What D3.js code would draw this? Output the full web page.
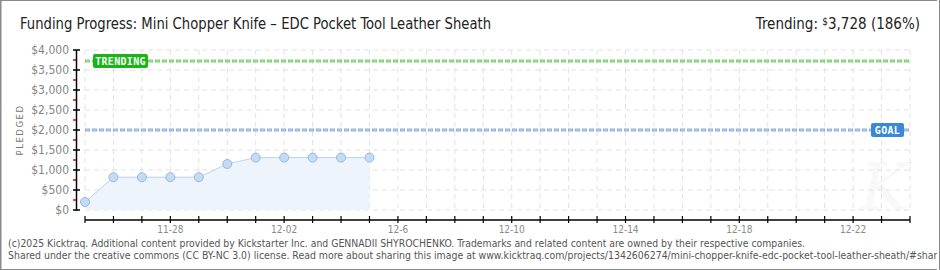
<!DOCTYPE html>
<html><head><meta charset="utf-8">
<script src="https://cdn.jsdelivr.net/npm/d3@7"></script>
<style>html,body{margin:0;padding:0;background:#fff;}svg{display:block;}</style>
</head><body>
<svg id="c" width="940" height="270"></svg>
<script>
const title = "Funding Progress: Mini Chopper Knife \u2013 EDC Pocket Tool Leather Sheath";
const startDate = "2025-11-25";
const endDate = "2025-12-24";
const pledgedDates = ["2025-11-25","2025-11-26","2025-11-27","2025-11-28","2025-11-29","2025-11-30","2025-12-01","2025-12-02","2025-12-03","2025-12-04","2025-12-05"];
const pledgedValues = [200, 820, 820, 820, 820, 1150, 1310, 1310, 1310, 1310, 1310];
const goalValue = 2000;
const trendingValue = 3728;
const trendingPct = 186;
const yTicks = [0, 500, 1000, 1500, 2000, 2500, 3000, 3500, 4000];
const xLabelDates = ["2025-11-28","2025-12-02","2025-12-06","2025-12-10","2025-12-14","2025-12-18","2025-12-22"];
const xLabelTexts = ["11-28","12-02","12-6","12-10","12-14","12-18","12-22"];
const footer1 = "(c)2025 Kicktraq. Additional content provided by Kickstarter Inc. and GENNADII SHYROCHENKO. Trademarks and related content are owned by their respective companies.";
const footer2 = "Shared under the creative commons (CC BY-NC 3.0) license. Read more about sharing this image at www.kicktraq.com/projects/1342606274/mini-chopper-knife-edc-pocket-tool-leather-sheath/#share";

const svg = d3.select("#c");
const P = d3.utcParse("%Y-%m-%d");
const x = d3.scaleUtc().domain([P(startDate), P(endDate)]).range([85, 910]);
const y = d3.scaleLinear().domain([0, 4000]).range([210, 50]);
const days = d3.utcDay.range(P(startDate), d3.utcDay.offset(P(endDate), 1));
const FONT = "'DejaVu Sans Condensed','DejaVu Sans',sans-serif";

// border
svg.append("rect").attr("x",0.5).attr("y",0.5).attr("width",939).attr("height",269)
  .attr("fill","#fff").attr("stroke","#8a8a8a").attr("stroke-width",1);
svg.append("line").attr("x1",1).attr("x2",1).attr("y1",0).attr("y2",270).attr("stroke","#8a8a8a").attr("stroke-width",1);

// watermark K
svg.append("text").attr("x",860).attr("y",210).attr("font-family","'DejaVu Serif',serif")
  .attr("font-style","italic").attr("font-size",66).attr("fill","#f8f8f8").text("K");

// grid
const g = svg.append("g");
g.selectAll("line.v").data(days).join("line")
  .attr("x1",d=>x(d)).attr("x2",d=>x(d)).attr("y1",y(4000)).attr("y2",y(0))
  .attr("stroke","#e2e2e2").attr("stroke-dasharray","5,4");
g.selectAll("line.h").data(yTicks).join("line")
  .attr("x1",x(P(startDate))).attr("x2",910).attr("y1",d=>y(d)).attr("y2",d=>y(d))
  .attr("stroke","#e2e2e2").attr("stroke-dasharray","5,4");

// area + line
const pts = pledgedDates.map((d,i)=>({d:P(d), v:pledgedValues[i]}));
svg.append("path").datum(pts)
  .attr("d", d3.area().x(p=>x(p.d)).y0(y(0)).y1(p=>y(p.v)))
  .attr("fill","#edf4fc");
svg.append("path").datum(pts)
  .attr("d", d3.line().x(p=>x(p.d)).y(p=>y(p.v)))
  .attr("fill","none").attr("stroke","#b8d4f0").attr("stroke-width",1);

// trending & goal lines
function refLine(v, col, dark){
  svg.append("line").attr("x1",x(P(startDate))).attr("x2",910).attr("y1",y(v)).attr("y2",y(v))
    .attr("stroke",dark).attr("stroke-width",3).attr("stroke-dasharray","5,2");
  svg.append("line").attr("x1",x(P(startDate))+1).attr("x2",910).attr("y1",y(v)).attr("y2",y(v))
    .attr("stroke",col).attr("stroke-width",1).attr("stroke-dasharray","3,4");
}
refLine(trendingValue, "#b6e4b0", "#7ccf74");
refLine(goalValue, "#c2d5ee", "#8fb0db");

// points
svg.selectAll("circle.p").data(pts).join("circle")
  .attr("cx",p=>x(p.d)).attr("cy",p=>y(p.v)).attr("r",4.5)
  .attr("fill","#c3dcf6").attr("stroke","#9db7d6").attr("stroke-width",1);

// labels on ref lines
function tag(x0, yv, w, fill, txt){
  svg.append("rect").attr("x",x0).attr("y",y(yv)-7).attr("width",w).attr("height",14).attr("rx",2)
    .attr("fill",fill);
  svg.append("text").attr("x",x0+w/2).attr("y",y(yv)+4).attr("text-anchor","middle")
    .attr("font-family","'DejaVu Sans Mono',monospace").attr("font-weight","bold").attr("font-size",10)
    .attr("fill","#fff").attr("letter-spacing",0.3).text(txt);
}
tag(93, trendingValue, 55, "#17b517", "TRENDING");
tag(871, goalValue, 33, "#3a88d8", "GOAL");

// y axis
svg.append("line").attr("x1",76.5).attr("x2",76.5).attr("y1",y(4000)).attr("y2",y(0)+0.5).attr("stroke","#000").attr("stroke-width",1.5);
const minor = d3.range(250, 4000, 500);
svg.selectAll("line.mn").data(minor).join("line")
  .attr("x1",73).attr("x2",76).attr("y1",d=>y(d)).attr("y2",d=>y(d)).attr("stroke","#e00000").attr("stroke-width",1.5);
svg.selectAll("line.mj").data(yTicks).join("line")
  .attr("x1",73).attr("x2",80).attr("y1",d=>y(d)).attr("y2",d=>y(d)).attr("stroke","#000").attr("stroke-width",1.5);
const fmt = d3.format("$,");
svg.selectAll("text.yl").data(yTicks).join("text")
  .attr("x",69).attr("y",d=>y(d)+4).attr("text-anchor","end")
  .attr("font-family",FONT).attr("font-size",12).attr("fill","#858585").text(d=>fmt(d));
svg.append("text").attr("transform","translate(23,130) rotate(-90)").attr("text-anchor","middle")
  .attr("font-family",FONT).attr("font-size",9.5).attr("letter-spacing",1.5).attr("fill","#777").text("PLEDGED");

// x axis
svg.append("line").attr("x1",x(P(startDate))).attr("x2",910).attr("y1",220).attr("y2",220).attr("stroke","#000").attr("stroke-width",1.5);
svg.selectAll("line.xt").data(days).join("line")
  .attr("x1",d=>x(d)).attr("x2",d=>x(d)).attr("y1",216).attr("y2",223).attr("stroke","#000").attr("stroke-width",1.2);
svg.selectAll("text.xl").data(xLabelDates).join("text")
  .attr("x",d=>x(P(d))).attr("y",233).attr("text-anchor","middle")
  .attr("font-family",FONT).attr("font-size",10).attr("fill","#8a8a8a").text((d,i)=>xLabelTexts[i]);

// title
svg.append("text").attr("x",20).attr("y",29).attr("font-family",FONT).attr("font-size",15)
  .attr("fill","#222").attr("textLength",471).attr("lengthAdjust","spacingAndGlyphs").text(title);
const tr = svg.append("text").attr("x",920).attr("y",29).attr("text-anchor","end")
  .attr("font-family",FONT).attr("font-size",15).attr("fill","#222");
tr.append("tspan").text("Trending:  ");
tr.append("tspan").attr("font-size",10).attr("dy",-4).text("$");
tr.append("tspan").attr("dy",4).text(d3.format(",")(trendingValue) + " (" + trendingPct + "%)");

// footer
const f1 = svg.append("text").attr("x",8).attr("y",247).attr("font-family",FONT).attr("font-size",10).attr("fill","#555").text(footer1);
const f2 = svg.append("text").attr("x",8).attr("y",259).attr("font-family",FONT).attr("font-size",10).attr("fill","#555").text(footer2);
const l1 = f1.node().getComputedTextLength();
const ratio = 797 / l1;
f1.attr("textLength",797).attr("lengthAdjust","spacingAndGlyphs");
f2.attr("textLength", f2.node().getComputedTextLength()*ratio + 6).attr("lengthAdjust","spacingAndGlyphs");
// re-draw right border over footer
svg.append("rect").attr("x",937).attr("y",0).attr("width",3).attr("height",270).attr("fill","#fff");
svg.append("line").attr("x1",939.5).attr("x2",939.5).attr("y1",0).attr("y2",270).attr("stroke","#8a8a8a");
</script>
</body></html>
